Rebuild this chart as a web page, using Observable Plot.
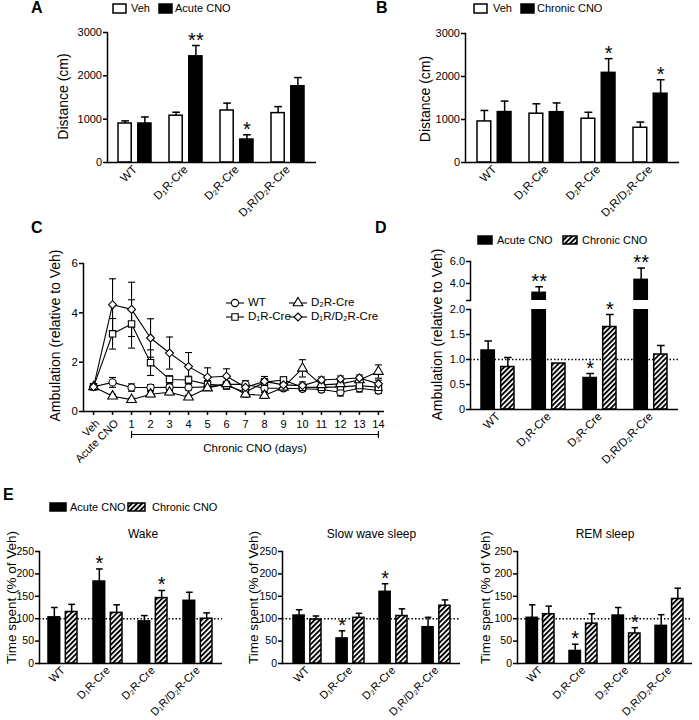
<!DOCTYPE html>
<html><head><meta charset="utf-8">
<script src="https://cdn.jsdelivr.net/npm/d3@7"></script>
<script src="https://cdn.jsdelivr.net/npm/@observablehq/plot@0.6"></script>
<style>
body{margin:0;background:#fff;}
#fig{position:relative;width:699px;height:720px;background:#fff;font-family:"Liberation Sans",Arial,sans-serif;color:#000;overflow:hidden}
.abs{position:absolute;white-space:nowrap;line-height:1}
</style></head><body><div id="fig"></div>
<script>
// ---------- data ----------
const groups = ["WT", "D₁R-Cre", "D₂R-Cre", "D₁R/D₂R-Cre"];

// Panel A (Distance, cm)
const aVeh = [900, 1080, 1200, 1140];
const aVehErr = [60, 80, 170, 150];
const aAcute = [900, 2450, 530, 1760];
const aAcuteErr = [150, 250, 110, 200];
const aAcuteStars = ["", "**", "*", ""];
// Panel B
const bVeh = [955, 1135, 1018, 808];
const bVehErr = [255, 230, 150, 132];
const bChronic = [1173, 1170, 2085, 1600];
const bChronicErr = [255, 215, 330, 325];
const bChronicStars = ["", "", "*", "*"];
const distTicks = [0, 1000, 2000, 3000];

// Panel C (Ambulation relative to Veh)
const cLabels = ["Veh", "Acute CNO", "1", "2", "3", "4", "5", "6", "7", "8", "9", "10", "11", "12", "13", "14"];
const cWT     = [1.00, 1.18, 0.97, 0.97, 0.98, 0.97, 1.00, 1.10, 1.10, 0.94, 0.94, 0.92, 0.89, 0.78, 0.94, 0.85];
const cWTErr  = [0.05, 0.20, 0.15, 0.12, 0.12, 0.10, 0.10, 0.12, 0.15, 0.15, 0.10, 0.10, 0.10, 0.15, 0.15, 0.12];
const cD1R    = [1.00, 3.15, 3.55, 1.98, 1.30, 1.28, 1.10, 1.05, 0.78, 1.19, 1.28, 0.98, 0.98, 1.00, 1.05, 0.98];
const cD1RErr = [0.05, 0.62, 0.98, 0.52, 0.15, 0.15, 0.15, 0.15, 0.15, 0.15, 0.12, 0.12, 0.10, 0.12, 0.12, 0.12];
const cD2R    = [1.00, 0.62, 0.48, 0.70, 0.78, 0.58, 0.95, 1.12, 0.70, 0.65, 0.98, 1.75, 1.08, 1.12, 1.28, 1.62];
const cD2RErr = [0.05, 0.08, 0.06, 0.10, 0.10, 0.08, 0.10, 0.10, 0.12, 0.12, 0.10, 0.35, 0.12, 0.12, 0.12, 0.27];
const cD1D2   = [1.00, 4.33, 4.14, 2.98, 2.37, 1.82, 1.39, 1.43, 0.98, 1.22, 1.08, 1.05, 1.28, 1.32, 1.36, 1.12];
const cD1D2Err= [0.05, 1.05, 1.10, 0.78, 0.65, 0.57, 0.38, 0.30, 0.20, 0.20, 0.20, 0.15, 0.12, 0.12, 0.12, 0.15];
const cYTicks = [0, 2, 4, 6];

// Panel D
const dAcute = [1.18, 3.15, 0.63, 4.33];
const dAcuteErr = [0.19, 0.55, 0.09, 1.07];
const dAcuteStars = ["", "**", "*", "**"];
const dChronic = [0.85, 0.92, 1.65, 1.10];
const dChronicErr = [0.19, 0, 0.25, 0.18];
const dChronicStars = ["", "", "*", ""];
const dLowTicks = [0, 0.5, 1, 1.5, 2];
const dHighTicks = [2.45, 4, 6];

// Panel E (Time spent, % of Veh)
const wakeAcute = [103, 183, 94, 140], wakeAcuteErr = [22, 28, 13, 19], wakeAcuteStars = ["", "*", "", ""];
const wakeChronic = [115, 113, 146, 100], wakeChronicErr = [17, 18, 17, 13], wakeChronicStars = ["", "", "*", ""];
const swsAcute = [107, 56, 160, 81], swsAcuteErr = [13, 17, 18, 22], swsAcuteStars = ["", "*", "*", ""];
const swsChronic = [98, 102, 106, 129], swsChronicErr = [8, 10, 16, 13], swsChronicStars = ["", "", "", ""];
const remAcute = [102, 28, 107, 84], remAcuteErr = [29, 15, 18, 25], remAcuteStars = ["", "*", "", ""];
const remChronic = [110, 89, 67, 144], remChronicErr = [18, 22, 13, 24], remChronicStars = ["", "", "*", ""];
const eTicks = [0, 50, 100, 150, 200, 250];

// ---------- helpers ----------
const svgNS = "http://www.w3.org/2000/svg";
const fig = document.getElementById("fig");
const FONT = "'Liberation Sans', Arial, sans-serif";
function place(el, left, top) { el.style.position = "absolute"; el.style.left = left + "px"; el.style.top = top + "px"; fig.appendChild(el); return el; }
const defs = document.createElementNS(svgNS, "svg");
defs.setAttribute("width", "0"); defs.setAttribute("height", "0");
defs.innerHTML = `<defs><pattern id="hatch" patternUnits="userSpaceOnUse" width="3.6" height="3.6" patternTransform="rotate(45)"><rect width="3.6" height="3.6" fill="white"/><rect width="1.9" height="3.6" fill="black"/></pattern></defs>`;
place(defs, 0, 0);

function capH(hw) { return {draw(ctx) { ctx.moveTo(-hw, 0); ctx.lineTo(hw, 0); }}; }
function capV(hh) { return {draw(ctx) { ctx.moveTo(0, -hh); ctx.lineTo(0, hh); }}; }
const baseStyle = {background: "none", fontFamily: FONT, color: "black", overflow: "visible"};

function barPanel(o) {
  const n = groups.length, pi = 0.35, po = 0.2;
  const W = o.width - o.mL - o.mR;
  const step = W / (n - pi + 2 * po), bw = step * (1 - pi);
  const barW = bw * 0.41, inset = bw - barW, off = inset / 2;
  const all = () => true;
  const marks = [];
  if (o.dotted != null) marks.push(Plot.ruleY([o.dotted], {strokeDasharray: "1.5,2", strokeWidth: 1.4}));
  o.series.forEach((s, k) => {
    const rows = groups.map((g, i) => ({group: g, value: s.values[i], err: s.errs[i], star: s.stars[i]}));
    const ann = rows.filter(o.keep || all);
    const dx = k === 0 ? -off : off;
    const side = k === 0 ? {insetRight: inset} : {insetLeft: inset};
    marks.push(Plot.barY(rows.filter(o.barKeep || all), {x: "group", y: "value", fill: s.fill, stroke: "black", strokeWidth: 1.5, clip: !!o.clip, ...side}));
    const er = ann.filter(d => d.err > 0);
    marks.push(Plot.ruleX(er, {x: "group", y1: "value", y2: d => d.value + d.err, dx, strokeWidth: 1.5}));
    marks.push(Plot.dot(er, {x: "group", y: d => d.value + d.err, dx, symbol: capH(barW * 0.28), r: 3, fill: "none", stroke: "black", strokeWidth: 1.5}));
    marks.push(Plot.text(ann.filter(d => d.star), {x: "group", y: d => d.value + d.err, text: "star", dx, dy: 1, lineAnchor: "bottom", fontSize: 20}));
  });
  marks.push(Plot.axisY({ticks: o.yTicks, tickFormat: o.yFormat || (d => String(d)), tickSize: 4, tickPadding: 1.5, strokeWidth: 1.5, fontSize: o.tickFont || 11, label: null}));
  marks.push(Plot.frame({anchor: "left", strokeWidth: 1.5}));
  if (o.baseline) marks.push(Plot.ruleY([o.yDomain[0]], {strokeWidth: 1.5}));
  if (o.xAxis !== false) marks.push(Plot.axisX({tickSize: 0, tickPadding: 5, tickRotate: -45, fontSize: o.xFont || 11.5, label: null}));
  if (o.ylabel) marks.push(Plot.text([o.ylabel], {frameAnchor: "left", rotate: -90, dx: o.ylabelDx, dy: o.ylabelDy || 0, fontSize: o.ylabelFont || 14, lineAnchor: "middle", textAnchor: "middle"}));
  if (o.title) marks.push(Plot.text([o.title], {frameAnchor: "top", dx: o.titleDx || 0, dy: -17, fontSize: 12, lineAnchor: "middle"}));
  const svg = Plot.plot({
    width: o.width, height: o.height, marginLeft: o.mL, marginRight: o.mR, marginTop: o.mT, marginBottom: o.mB,
    style: baseStyle,
    x: {type: "band", domain: groups, paddingInner: pi, paddingOuter: po, axis: o.xAxis === false ? null : undefined},
    y: {domain: o.yDomain},
    marks
  });
  return place(svg, o.left, o.top);
}

function rectSwatch(kind, x, yc, w, h) {
  const s = document.createElementNS(svgNS, "svg");
  s.setAttribute("width", w + 2); s.setAttribute("height", h + 2);
  const fill = kind === "open" ? "white" : kind === "hatch" ? "url(#hatch)" : "black";
  s.innerHTML = `<rect x="1" y="1" width="${w}" height="${h}" fill="${fill}" stroke="black" stroke-width="1.5"/>`;
  place(s, x - 1, yc - h / 2 - 1);
}
function label(text, x, yc, size = 11, bold = false) {
  const d = document.createElement("div");
  d.className = "abs"; d.textContent = text;
  d.style.fontSize = size + "px"; if (bold) d.style.fontWeight = "bold";
  d.style.transform = "translateY(-50%)";
  place(d, x, yc);
}
function symSwatch(type, xc, yc) {
  const r = 3.6;
  const s = document.createElementNS(svgNS, "svg");
  s.setAttribute("width", 22); s.setAttribute("height", 14);
  const p = d3.symbol(type, r * r * Math.PI)();
  s.innerHTML = `<path d="M2,7H20" stroke="black" stroke-width="1.1"/><path transform="translate(11,7)" d="${p}" fill="white" stroke="black" stroke-width="1.1"/>`;
  place(s, xc - 11, yc - 7);
}

// ---------- Panel A ----------
barPanel({left: 0, top: 0, width: 330, height: 220, mL: 107, mR: 14, mT: 32, mB: 58,
  yDomain: [0, 3000], yTicks: distTicks, baseline: true,
  series: [{values: aVeh, errs: aVehErr, stars: ["", "", "", ""], fill: "white"},
           {values: aAcute, errs: aAcuteErr, stars: aAcuteStars, fill: "black"}],
  ylabel: "Distance (cm)", ylabelDx: -44, ylabelDy: -1});
label("A", 31, 8, 16, true);
rectSwatch("open", 113, 8, 13, 9); label("Veh", 131, 8);
rectSwatch("solid", 159, 8, 13, 9); label("Acute CNO", 175, 8);

// ---------- Panel B ----------
barPanel({left: 350, top: 0, width: 349, height: 220, mL: 115, mR: 20, mT: 33, mB: 58,
  yDomain: [0, 3000], yTicks: distTicks, baseline: true,
  series: [{values: bVeh, errs: bVehErr, stars: ["", "", "", ""], fill: "white"},
           {values: bChronic, errs: bChronicErr, stars: bChronicStars, fill: "black"}],
  ylabel: "Distance (cm)", ylabelDx: -40, ylabelDy: 1});
label("B", 376, 8, 16, true);
rectSwatch("open", 474, 8, 13, 9); label("Veh", 493, 8);
rectSwatch("solid", 521, 8, 13, 9); label("Chronic CNO", 537, 8);

// ---------- Panel C ----------
{
  const cSeries = [
    {name: "WT", symbol: "circle", values: cWT, errs: cWTErr},
    {name: "D₁R-Cre", symbol: "square", values: cD1R, errs: cD1RErr},
    {name: "D₂R-Cre", symbol: "triangle", values: cD2R, errs: cD2RErr},
    {name: "D₁R/D₂R-Cre", symbol: "diamond2", values: cD1D2, errs: cD1D2Err}
  ];
  const rows = cSeries.flatMap(s => s.values.map((v, i) => ({series: s.name, i, value: v, err: s.errs[i]})));
  const xIdx = cLabels.map((_, i) => i);
  const cYDomain = [0, 6];
  const chronicStart = cLabels.indexOf("1"), chronicEnd = cLabels.length - 1;
  const bracket = [{start: chronicStart, end: chronicEnd, y: cYDomain[0]}];
  const lw = 1.1;
  const svg = Plot.plot({
    width: 400, height: 240, marginLeft: 83, marginRight: 16, marginTop: 23, marginBottom: 69,
    style: baseStyle,
    x: {domain: [-0.53, 15.32]}, y: {domain: cYDomain},
    marks: [
      Plot.ruleX(rows, {x: "i", y1: d => d.value - d.err, y2: d => d.value + d.err, strokeWidth: lw}),
      Plot.dot(rows, {x: "i", y: d => d.value + d.err, symbol: capH(3.5), r: 3, fill: "none", stroke: "black", strokeWidth: lw}),
      Plot.dot(rows, {x: "i", y: d => d.value - d.err, symbol: capH(3.5), r: 3, fill: "none", stroke: "black", strokeWidth: lw}),
      Plot.line(rows, {x: "i", y: "value", z: "series", strokeWidth: lw}),
      ...cSeries.map(s => Plot.dot(rows.filter(d => d.series === s.name), {x: "i", y: "value", symbol: s.symbol, r: 3.6, fill: "white", stroke: "black", strokeWidth: lw})),
      Plot.frame({anchor: "left", strokeWidth: 1.5}),
      Plot.ruleY([cYDomain[0]], {strokeWidth: 1.5}),
      Plot.axisY({ticks: cYTicks, tickFormat: d => String(d), tickSize: 4, tickPadding: 1.5, strokeWidth: 1.5, fontSize: 11.5, label: null}),
      Plot.axisX({ticks: xIdx, tickFormat: i => i >= chronicStart ? cLabels[i] : "", tickSize: 4, strokeWidth: 1.5, fontSize: 11, label: null}),
      Plot.text(xIdx.slice(0, chronicStart), {x: d => d, frameAnchor: "bottom", text: i => cLabels[i], rotate: -45, textAnchor: "end", lineAnchor: "middle", dx: 4, dy: 10, fontSize: 11}),
      Plot.ruleY(bracket, {x1: "start", x2: "end", y: "y", dy: 23, strokeWidth: 1.2}),
      Plot.dot([chronicStart, chronicEnd].map(x => ({x, y: cYDomain[0]})), {x: "x", y: "y", dy: 23, symbol: capV(3.5), r: 3, fill: "none", stroke: "black", strokeWidth: 1.2}),
      Plot.text(bracket, {x: d => (d.start + d.end) / 2, y: "y", text: () => "Chronic CNO (days)", dy: 37, fontSize: 11.5}),
      Plot.text(["Ambulation (relative to Veh)"], {frameAnchor: "left", rotate: -90, dx: -28, dy: -2, fontSize: 14, lineAnchor: "middle", textAnchor: "middle"})
    ]
  });
  place(svg, 0, 240);
  label("C", 31, 228, 16, true);
  const legType = [d3.symbolCircle, d3.symbolSquare, d3.symbolTriangle, d3.symbolDiamond2];
  const legPos = [[235, 303], [235, 317], [298, 303], [298, 317]];
  cSeries.forEach((s, k) => { symSwatch(legType[k], legPos[k][0], legPos[k][1]); label(s.name, legPos[k][0] + 13, legPos[k][1], 11.5); });
}

// ---------- Panel D ----------
{
  const dSeries = [{values: dAcute, errs: dAcuteErr, stars: dAcuteStars, fill: "black"},
                   {values: dChronic, errs: dChronicErr, stars: dChronicStars, fill: "url(#hatch)"}];
  const lowDom = [0, 2], highDom = [2.45, 6];
  barPanel({left: 350, top: 240, width: 349, height: 240, mL: 120, mR: 21, mT: 69, mB: 71,
    yDomain: lowDom, yTicks: dLowTicks, yFormat: d => d === 0 ? "0" : d.toFixed(1), baseline: true, clip: true,
    keep: d => d.value + d.err <= lowDom[1], dotted: 1, series: dSeries,
    ylabel: "Ambulation (relative to Veh)", ylabelDx: -33, ylabelDy: -25});
  barPanel({left: 350, top: 240, width: 349, height: 70, mL: 120, mR: 21, mT: 21, mB: 10,
    yDomain: highDom, yTicks: dHighTicks, yFormat: d => d >= 4 ? d.toFixed(1) : "", clip: true, xAxis: false,
    barKeep: d => d.value > highDom[0], keep: d => d.value > highDom[0], series: dSeries});
  label("D", 375, 228, 16, true);
  rectSwatch("solid", 478, 240, 14, 8); label("Acute CNO", 497, 240);
  rectSwatch("hatch", 563, 240, 14, 8); label("Chronic CNO", 582, 240);
}

// ---------- Panel E ----------
const eCommon = {top: 520, height: 200, mT: 31, mB: 57, yDomain: [0, 250], yTicks: eTicks, baseline: true, dotted: 100, tickFont: 10.5, xFont: 11, ylabel: "Time spent (% of Veh)", ylabelDy: -10, ylabelFont: 13.5};
barPanel({...eCommon, left: 0, width: 230, mL: 39, mR: 8, ylabelDx: -28, title: "Wake", titleDx: 12,
  series: [{values: wakeAcute, errs: wakeAcuteErr, stars: wakeAcuteStars, fill: "black"},
           {values: wakeChronic, errs: wakeChronicErr, stars: wakeChronicStars, fill: "url(#hatch)"}]});
barPanel({...eCommon, left: 230, width: 235, mL: 52, mR: 5, ylabelDx: -29, title: "Slow wave sleep",
  series: [{values: swsAcute, errs: swsAcuteErr, stars: swsAcuteStars, fill: "black"},
           {values: swsChronic, errs: swsChronicErr, stars: swsChronicStars, fill: "url(#hatch)"}]});
barPanel({...eCommon, left: 460, width: 239, mL: 57, mR: 7, ylabelDx: -32, title: "REM sleep",
  series: [{values: remAcute, errs: remAcuteErr, stars: remAcuteStars, fill: "black"},
           {values: remChronic, errs: remChronicErr, stars: remChronicStars, fill: "url(#hatch)"}]});
label("E", 3, 495, 16, true);
rectSwatch("solid", 50, 507, 16, 8); label("Acute CNO", 70, 507);
rectSwatch("hatch", 128, 507, 17, 8); label("Chronic CNO", 152, 507);
</script></body></html>
